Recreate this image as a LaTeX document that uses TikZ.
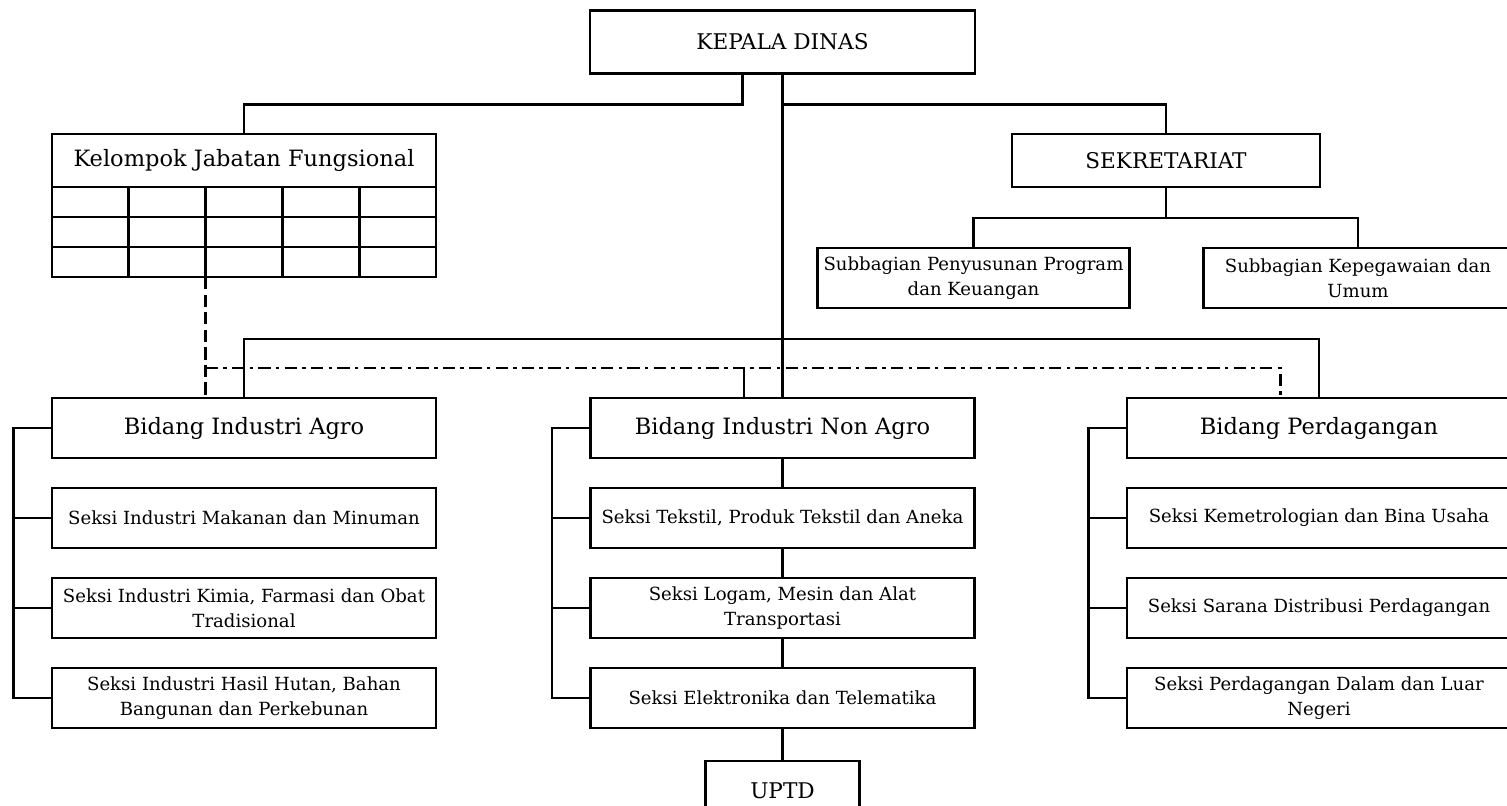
\documentclass[tikz,border=0pt]{standalone}
\usepackage{fontspec}
\setmainfont{DejaVu Serif}
\usepackage{tikz}
\usetikzlibrary{positioning}

\begin{document}
\begin{tikzpicture}[node distance=0.6cm and 0.8cm]

	% Styles
	\tikzset{
		unitbox/.style={
			rectangle, draw, line width=1.5pt, outer sep=0pt,
			minimum width=7.68cm, minimum height=1.2cm,
			align=center, font=\fontsize{10.3}{14}\selectfont
		},
		headbox/.style={
			unitbox, font=\fontsize{12.8}{15}\selectfont
		},
		topbox/.style={
			unitbox, font=\fontsize{12.3}{15}\selectfont
		},
		subbox/.style={
			unitbox, minimum width=6.18cm
		},
		link/.style={line width=1.5pt},
		coordline/.style={line width=1.5pt, dash pattern=on 7pt off 3pt on 2pt off 3pt},
		fungline/.style={line width=1.5pt, dash pattern=on 7pt off 3pt}
	}

	\useasboundingbox (0,0) rectangle (30.14,-16.12);
	\clip (0,0) rectangle (30.14,-16.12);

	% Top
	\node (kepala) [topbox, minimum width=7.7cm, minimum height=1.26cm] at (15.65,-0.835) {KEPALA DINAS};

	% Kelompok Jabatan Fungsional
	\node (kjf) [headbox, minimum height=1.06cm] at (4.88,-3.21) {Kelompok Jabatan Fungsional};
	\node (kjfgrid) [unitbox, minimum height=1.8cm, below=0cm of kjf] {};
	\foreach \i in {1,...,4}
		\draw[link] ([xshift=\i*1.536cm]kjfgrid.north west) -- ([xshift=\i*1.536cm]kjfgrid.south west);
	\foreach \j in {1,2}
		\draw[link] ([yshift=-\j*0.6cm]kjfgrid.north west) -- ([yshift=-\j*0.6cm]kjfgrid.north east);

	% Sekretariat
	\node (sekre) [topbox, minimum width=6.16cm, minimum height=1.06cm] at (23.32,-3.21) {SEKRETARIAT};
	\node (subprog) [subbox] at (19.47,-5.56) {Subbagian Penyusunan Program\\dan Keuangan};
	\node (subpeg) [subbox] at (27.16,-5.56) {Subbagian Kepegawaian dan\\Umum};

	% Bidang
	\node (agro) [headbox] at (4.88,-8.56) {Bidang Industri Agro};
	\node (nonagro) [headbox] at (15.65,-8.56) {Bidang Industri Non Agro};
	\node (dagang) [headbox] at (26.38,-8.56) {Bidang Perdagangan};

	% Seksi
	\node (sagro1) [unitbox, below=of agro] {Seksi Industri Makanan dan Minuman};
	\node (sagro2) [unitbox, below=of sagro1] {Seksi Industri Kimia, Farmasi dan Obat\\Tradisional};
	\node (sagro3) [unitbox, below=of sagro2] {Seksi Industri Hasil Hutan, Bahan\\Bangunan dan Perkebunan};

	\node (snon1) [unitbox, below=of nonagro] {Seksi Tekstil, Produk Tekstil dan Aneka};
	\node (snon2) [unitbox, below=of snon1] {Seksi Logam, Mesin dan Alat\\Transportasi};
	\node (snon3) [unitbox, below=of snon2] {Seksi Elektronika dan Telematika};

	\node (sdag1) [unitbox, below=of dagang] {Seksi Kemetrologian dan Bina Usaha};
	\node (sdag2) [unitbox, below=of sdag1] {Seksi Sarana Distribusi Perdagangan};
	\node (sdag3) [unitbox, below=of sdag2] {Seksi Perdagangan Dalam dan Luar\\Negeri};

	\node (uptd) [topbox, minimum width=3.08cm, below=0.66cm of snon3] {UPTD};

	% Lines from the top
	\draw[link] ([xshift=-0.8cm]kepala.south) -- ++(0,-0.62) -| (kjf.north);
	\draw[link] (kepala.south) -- (nonagro.north);
	\draw[link] ([yshift=-0.62cm]kepala.south) -| (sekre.north);
	\draw[link] (sekre.south) -- ++(0,-0.62);
	\draw[link] (subprog.north) |- ([yshift=-0.62cm]sekre.south) -| (subpeg.north);
	\draw[link] (agro.north) -- ++(0,1.18) -| (dagang.north);

	% Coordination lines
	\draw[fungline] ([xshift=-0.768cm]kjfgrid.south) -- ([xshift=-0.768cm]agro.north);
	\draw[coordline] ([xshift=-0.768cm,yshift=0.6cm]agro.north) -| ([xshift=-0.77cm]dagang.north);
	\draw[link] ([xshift=-0.77cm,yshift=0.6cm]nonagro.north) -- ([xshift=-0.77cm]nonagro.north);

	% Brackets
	\draw[link] (agro.west) -| ([xshift=-0.77cm]sagro3.west) -- (sagro3.west);
	\draw[link] (sagro1.west) -- ++(-0.77,0);
	\draw[link] (sagro2.west) -- ++(-0.77,0);
	\draw[link] (nonagro.west) -| ([xshift=-0.77cm]snon3.west) -- (snon3.west);
	\draw[link] (snon1.west) -- ++(-0.77,0);
	\draw[link] (snon2.west) -- ++(-0.77,0);
	\draw[link] (dagang.west) -| ([xshift=-0.77cm]sdag3.west) -- (sdag3.west);
	\draw[link] (sdag1.west) -- ++(-0.77,0);
	\draw[link] (sdag2.west) -- ++(-0.77,0);

	% Non Agro chain
	\draw[link] (nonagro.south) -- (snon1.north);
	\draw[link] (snon1.south) -- (snon2.north);
	\draw[link] (snon2.south) -- (snon3.north);
	\draw[link] (snon3.south) -- (uptd.north);

\end{tikzpicture}
\end{document}
